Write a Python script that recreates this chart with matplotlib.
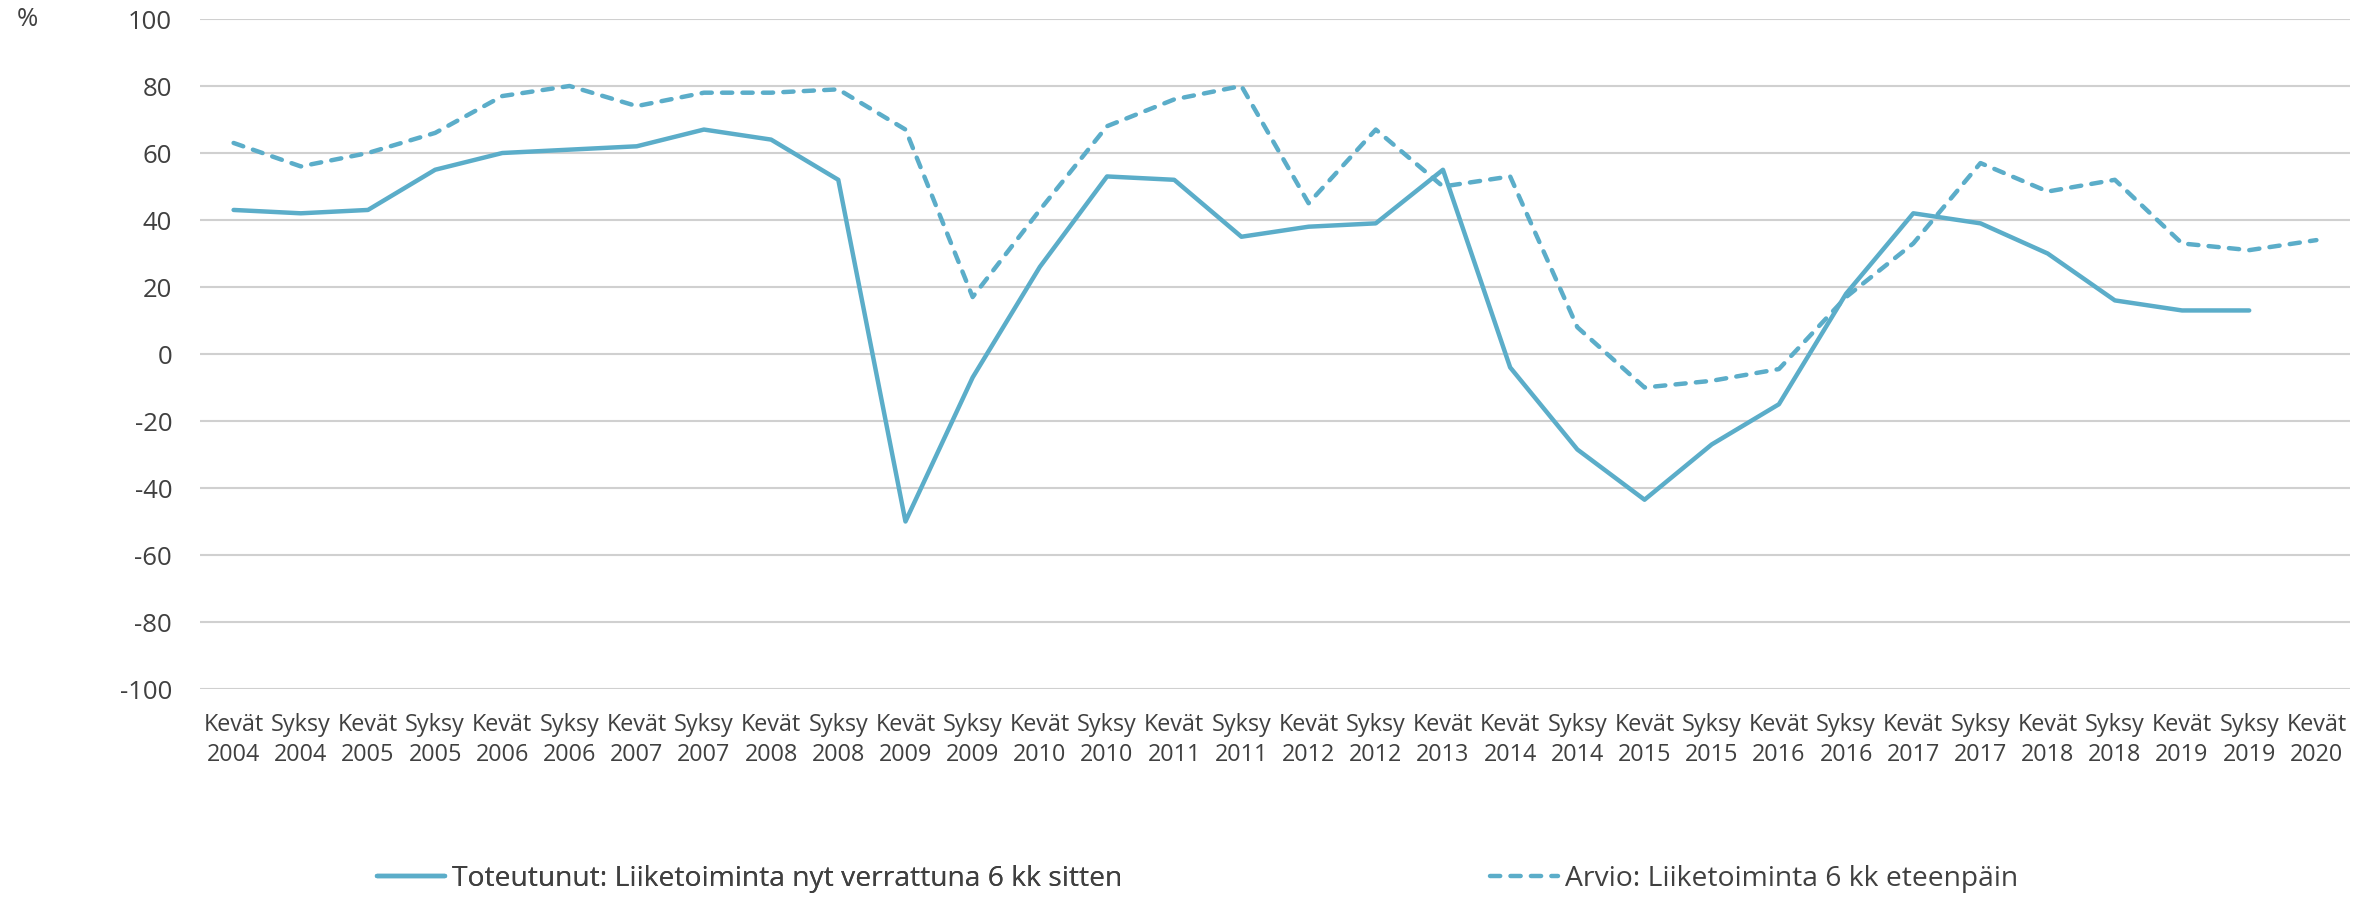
import numpy as np
import matplotlib
matplotlib.use("Agg")
import matplotlib.pyplot as plt

plt.rcParams['font.family'] = ['Open Sans', 'DejaVu Sans']
plt.rcParams['axes.unicode_minus'] = False

labels = ["Kevät\n2004", "Syksy\n2004", "Kevät\n2005", "Syksy\n2005", "Kevät\n2006", "Syksy\n2006",
          "Kevät\n2007", "Syksy\n2007", "Kevät\n2008", "Syksy\n2008", "Kevät\n2009", "Syksy\n2009",
          "Kevät\n2010", "Syksy\n2010", "Kevät\n2011", "Syksy\n2011", "Kevät\n2012", "Syksy\n2012",
          "Kevät\n2013", "Kevät\n2014", "Syksy\n2014", "Kevät\n2015", "Syksy\n2015", "Kevät\n2016",
          "Syksy\n2016", "Kevät\n2017", "Syksy\n2017", "Kevät\n2018", "Syksy\n2018", "Kevät\n2019",
          "Syksy\n2019", "Kevät\n2020"]

toteutunut = [43, 42, 43, 55, 60, 61, 62, 67, 64, 52, -50, -7, 26, 53, 52, 35, 38, 39, 55, -4,
              -28.5, -43.5, -27, -15, 18, 42, 39, 30, 16, 13, 13, np.nan]
arvio = [63, 56, 60, 66, 77, 80, 74, 78, 78, 79, 67, 17, 43, 68, 76, 80, 45, 67, 50, 53,
         8, -10, -8, -4.5, 17, 33, 57, 48.5, 52, 33, 31, 34]

name_tot = "Toteutunut: Liiketoiminta nyt verrattuna 6 kk sitten"
name_arv = "Arvio: Liiketoiminta 6 kk eteenpäin"

color = "#5BADC9"
text_color = "#404040"
grid_color = "#D0D0D0"

W, H = 2376, 897
fig = plt.figure(figsize=(W / 100, H / 100), dpi=100)
ax = fig.add_axes([200 / W, 1 - 689 / H, 2150 / W, (689 - 19) / H])

x = np.arange(len(labels))
l1, = ax.plot(x, toteutunut, color=color, lw=3.2, solid_capstyle='round', solid_joinstyle='round')
l2, = ax.plot(x, arvio, color=color, lw=3.2, linestyle=(0, (2.3, 2.3)),
              dash_capstyle='round', dash_joinstyle='round')

ax.set_xlim(-0.5, len(labels) - 0.5)
ax.set_ylim(-100, 100)
ax.set_yticks(np.arange(-100, 101, 20))
ax.set_xticks(x)
ax.set_xticklabels(labels, fontsize=16.8, color=text_color, linespacing=1.38)
ax.tick_params(axis='x', length=0, pad=17)
ax.tick_params(axis='y', length=0, pad=20, labelsize=18.5, labelcolor=text_color)
ax.grid(axis='y', color=grid_color, lw=1.5)
ax.set_axisbelow(True)
for s in ax.spines.values():
    s.set_visible(False)

fig.text(27 / W, 1 - 19 / H, "%", fontsize=18.5, color=text_color, ha='center', va='center')

# legend entries placed manually
common = dict(loc='center left', frameon=False, fontsize=20.3, labelcolor=text_color,
              handlelength=2.4, handletextpad=0.27, borderaxespad=0, borderpad=0)
leg = fig.legend([l1], [name_tot], bbox_to_anchor=(377 / W, 1 - 879 / H), **common)
leg2 = fig.legend([l2], [name_arv], bbox_to_anchor=(1490 / W, 1 - 879 / H), **common)
fig.add_artist(leg)

fig.savefig("out.png", dpi=100, facecolor='white')
